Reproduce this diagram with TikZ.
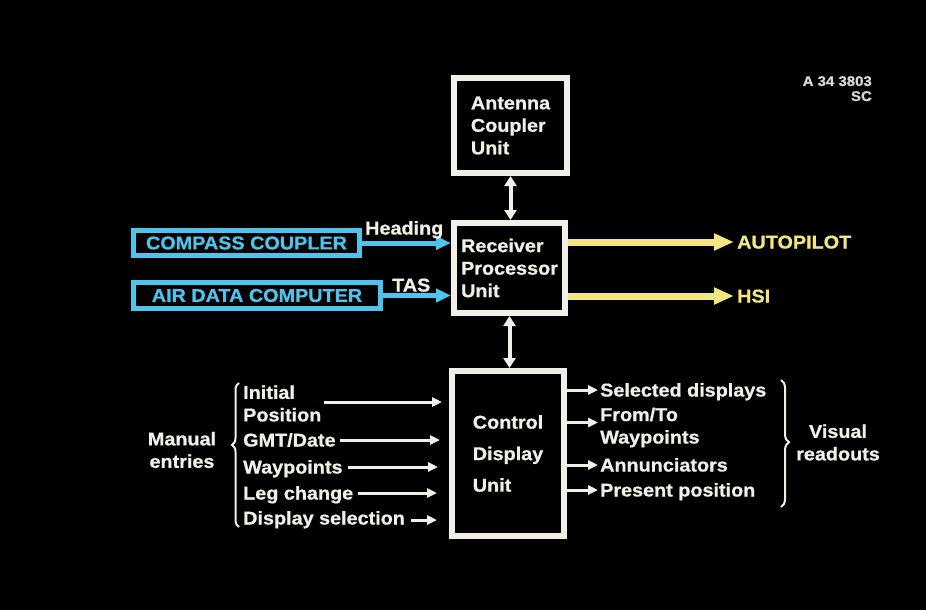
\documentclass[tikz,border=0pt]{standalone}
\usepackage{fontspec}
\setmainfont[FakeStretch=1.07, BoldFeatures={FakeBold=0.8}]{Liberation Sans}
\usetikzlibrary{arrows.meta,decorations.pathreplacing}
\definecolor{wht}{HTML}{F2F0E6}
\definecolor{cyn}{HTML}{4EC3EC}
\definecolor{ylw}{HTML}{F2E683}
\definecolor{gry}{HTML}{D8D8D8}
\begin{document}
\begin{tikzpicture}[x=1pt,y=-1pt,
  txt/.style={font=\fontsize{18.5}{22.5}\selectfont\bfseries, text=wht, inner sep=0pt},
  unitbox/.style={txt, draw=wht, line width=6pt, fill=black, align=left},
  srcbox/.style={txt, draw=cyn, line width=5pt, text=cyn},
  lbl/.style={txt, text height=13pt, text depth=0pt, anchor=west},
  mlbl/.style={txt, align=left, anchor=west},
  wa/.style={draw=wht, line width=3pt, -{Triangle[length=10pt,width=9pt]}},
  dbl/.style={draw=wht, line width=4pt, {Triangle[length=10pt,width=12pt]}-{Triangle[length=10pt,width=12pt]}},
  ca/.style={draw=cyn, line width=5pt, -{Triangle[length=15pt,width=13pt]}},
  ya/.style={draw=ylw, line width=7pt, -{Triangle[length=20pt,width=16pt]}},
  brc/.style={draw=wht, line width=2pt, decorate}]
\fill[black] (0,0) rectangle (926,610);
\useasboundingbox (0,0) rectangle (926,610);

% unit boxes
\node[unitbox, minimum width=113pt, minimum height=95pt] (acu) at (510.5,125.5) {Antenna\\Coupler\\Unit};
\node[unitbox, minimum width=111pt, minimum height=90pt] (rpu) at (509.5,268) {Receiver\\Processor\\Unit};
\node[unitbox, minimum width=112pt, minimum height=165pt, font=\fontsize{18.5}{31.5}\selectfont\bfseries] (cdu) at (508,453.5) {\raisebox{-4pt}{Control}\\\raisebox{-4pt}{Display}\\\raisebox{-4pt}{Unit}};

% source boxes
\node[srcbox, minimum width=226pt, minimum height=25pt] (cc) at (246.5,243) {COMPASS COUPLER};
\node[srcbox, minimum width=247pt, minimum height=26pt] (adc) at (257,295.5) {AIR DATA COMPUTER};

\draw[ca] (cc.east) -- (cc.east -| rpu.west);
\draw[ca] (adc.east) -- (adc.east -| rpu.west);
\node[lbl] (hd) at (365,228) {Heading};
\node[lbl] (tas) at (392,285) {TAS};

% outputs
\node[lbl, text=ylw] (ap) at (737,242) {AUTOPILOT};
\node[lbl, text=ylw] (hsi) at (737,296) {HSI};
\draw[ya, shorten >=3pt] (ap.west -| rpu.east) -- (ap.west);
\draw[ya, shorten >=3pt] (hsi.west -| rpu.east) -- (hsi.west);

% vertical links
\draw[dbl] (acu.south) -- (acu.south |- rpu.north);
\draw[dbl] (rpu.south) -- (rpu.south |- cdu.north);

% manual entries
\node[txt, align=center] (me) at (182,450) {Manual\\entries};
\draw[brc, decoration={brace, amplitude=7pt, aspect=0.57}] (239,527) -- (239,383);
\node[mlbl] (ip) at (243,403.5) {Initial\\Position};
\node[lbl] (gmt) at (243,440) {GMT/Date};
\node[lbl] (wp) at (243,467) {Waypoints};
\node[lbl] (lc) at (243,493) {Leg change};
\node[lbl] (ds) at (243,518) {Display selection};
\coordinate (e1) at (442,402);
\coordinate (e2) at (440,440);
\coordinate (e3) at (438,467);
\coordinate (e4) at (437,493);
\coordinate (e5) at (437,520);
\draw[wa, shorten <=3pt] (ip.east |- e1) -- (e1);
\draw[wa, shorten <=4pt] (gmt.east |- e2) -- (e2);
\draw[wa, shorten <=5pt] (wp.east |- e3) -- (e3);
\draw[wa, shorten <=5pt] (lc.east |- e4) -- (e4);
\draw[wa, shorten <=6pt] (ds.east |- e5) -- (e5);

% visual readouts
\node[lbl] (sd) at (600,390) {Selected displays};
\node[mlbl] (ft) at (600,427.5) {From/To\\Waypoints};
\node[lbl] (an) at (600,465) {Annunciators};
\node[lbl] (pp) at (600,490) {Present position};
\coordinate (ftin) at ([yshift=5pt]ft.west);
\draw[wa, shorten >=2pt] (cdu.east |- sd.west) -- (sd.west);
\draw[wa, shorten >=2pt] (cdu.east |- ftin) -- (ftin);
\draw[wa, shorten >=2pt] (cdu.east |- an.west) -- (an.west);
\draw[wa, shorten >=2pt] (cdu.east |- pp.west) -- (pp.west);
\draw[brc, decoration={brace, amplitude=8pt, aspect=0.49}] (781,380) -- (781,507);
\node[txt, align=center] (vr) at (838,442.5) {Visual\\readouts};

% reference code
\node[font=\fontsize{14}{15}\selectfont\bfseries, text=gry, align=right, anchor=north east, inner sep=0pt] (code) at (872,76) {A 34 3803\\SC};
\end{tikzpicture}
\end{document}
